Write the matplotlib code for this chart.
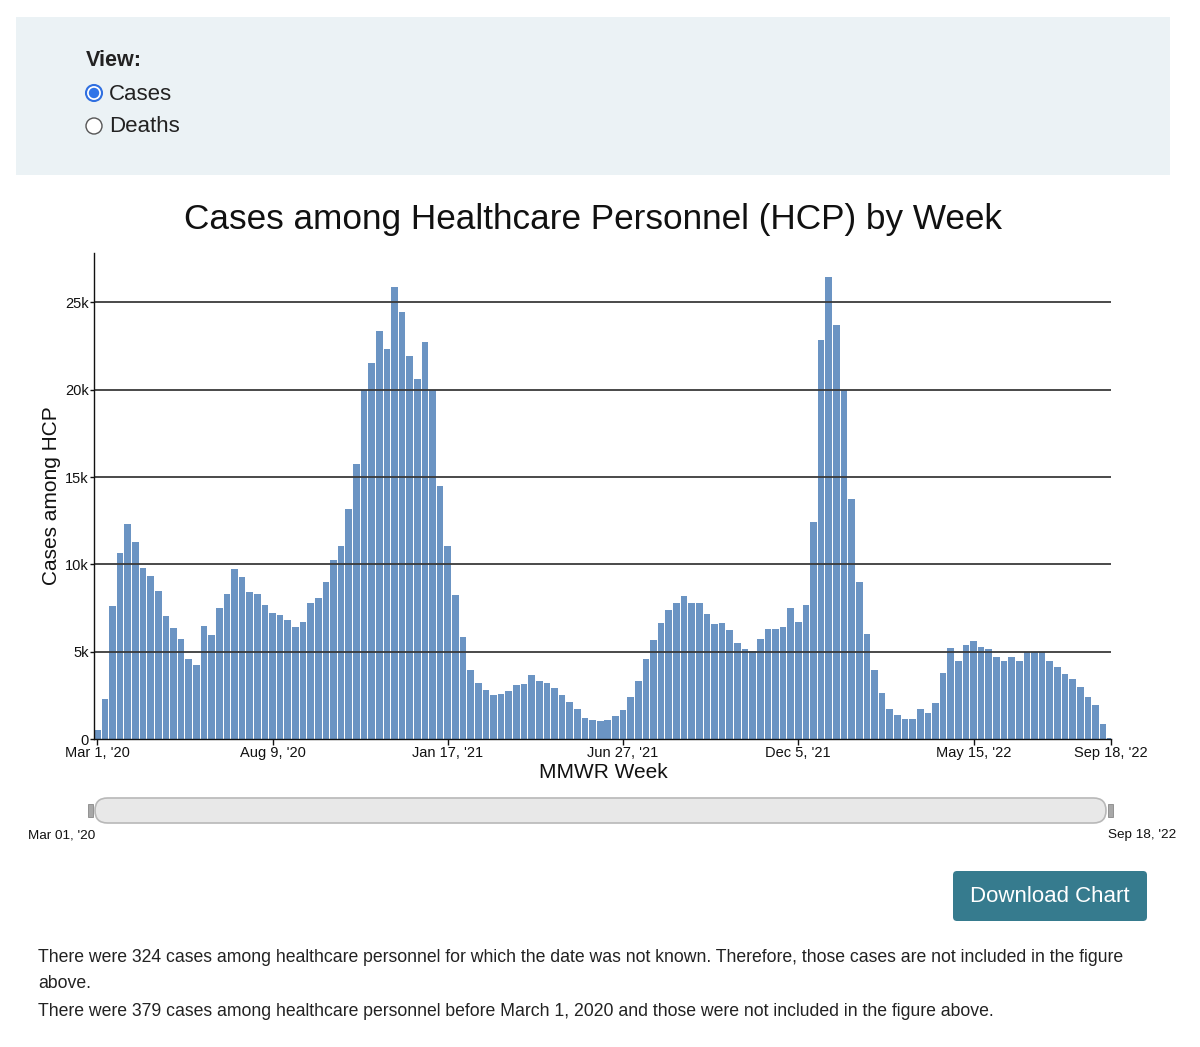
import numpy as np
import pandas as pd
import matplotlib
matplotlib.use('Agg')
import matplotlib.pyplot as plt
from matplotlib.patches import Rectangle, Circle, FancyBboxPatch
from matplotlib.ticker import FuncFormatter

plt.rcParams['font.family'] = ['Liberation Sans', 'DejaVu Sans']

# weekly cases among HCP (thousands), MMWR weeks from Mar 1, 2020
cases_k = [
    0.53, 2.32, 7.6, 10.67, 12.29, 11.26, 9.79, 9.33, 8.51, 7.07,
    6.34, 5.73, 4.59, 4.25, 6.48, 5.98, 7.5, 8.3, 9.73, 9.3,
    8.4, 8.3, 7.71, 7.24, 7.09, 6.8, 6.44, 6.69, 7.81, 8.1,
    9.0, 10.27, 11.07, 13.16, 15.77, 20.0, 21.52, 23.33, 22.34, 25.89,
    24.44, 21.9, 20.59, 22.7, 20.0, 14.51, 11.05, 8.23, 5.87, 3.96,
    3.2, 2.8, 2.53, 2.61, 2.74, 3.09, 3.16, 3.66, 3.35, 3.2,
    2.93, 2.51, 2.13, 1.75, 1.2, 1.1, 1.05, 1.12, 1.33, 1.68,
    2.44, 3.33, 4.61, 5.7, 6.65, 7.39, 7.81, 8.19, 7.79, 7.79,
    7.14, 6.59, 6.67, 6.23, 5.52, 5.16, 5.05, 5.75, 6.29, 6.32,
    6.42, 7.49, 6.69, 7.66, 12.44, 22.86, 26.46, 23.7, 20.0, 13.73,
    8.97, 6.02, 3.96, 2.63, 1.75, 1.39, 1.14, 1.14, 1.75, 1.49,
    2.06, 3.77, 5.24, 4.5, 5.37, 5.64, 5.3, 5.14, 4.7, 4.5,
    4.72, 4.5, 4.99, 4.99, 4.99, 4.48, 4.11, 3.73, 3.47, 2.97,
    2.4, 1.98, 0.86, 0.1,
]
weeks = pd.date_range('2020-03-01', periods=len(cases_k), freq='7D')

tick_dates = ['2020-03-01', '2020-08-09', '2021-01-17', '2021-06-27',
              '2021-12-05', '2022-05-15', '2022-09-18']
tick_labels = ["Mar 1, '20", "Aug 9, '20", "Jan 17, '21", "Jun 27, '21",
               "Dec 5, '21", "May 15, '22", "Sep 18, '22"]
y_ticks = [0, 5000, 10000, 15000, 20000, 25000]

footnotes = [
    "There were 324 cases among healthcare personnel for which the date was not known. Therefore, those cases are not included in the figure",
    "above.",
    "There were 379 cases among healthcare personnel before March 1, 2020 and those were not included in the figure above.",
]

W, H = 1200, 1047
fig = plt.figure(figsize=(W / 100, H / 100), dpi=100)

# page layer in pixel coordinates (y measured from top)
bg = fig.add_axes([0, 0, 1, 1], zorder=0)
bg.set_xlim(0, W)
bg.set_ylim(H, 0)
bg.axis('off')

bg.add_patch(Rectangle((16, 17), 1154, 158, facecolor='#ebf2f5', edgecolor='none'))
bg.text(86, 61, 'View:', fontsize=15.5, fontweight='bold', color='#222', va='center')
bg.add_patch(Circle((94, 93), 8, facecolor='white', edgecolor='#2f6fe0', lw=1.5))
bg.add_patch(Circle((94, 93), 5.2, facecolor='#2f74e8', edgecolor='none'))
bg.text(109, 94, 'Cases', fontsize=16, color='#222', va='center')
bg.add_patch(Circle((94, 126), 8, facecolor='white', edgecolor='#555', lw=1))
bg.text(109, 127, 'Deaths', fontsize=16, color='#222', va='center')

bg.text(593, 219, 'Cases among Healthcare Personnel (HCP) by Week',
        fontsize=25.3, color='#111', ha='center', va='center')
bg.text(52, 496, 'Cases among HCP', fontsize=15, rotation=90,
        ha='center', va='center', color='#111')
bg.text(603, 772, 'MMWR Week', fontsize=15, ha='center', va='center', color='#111')

# range slider
bg.add_patch(FancyBboxPatch((95, 798), 1011, 25,
                            boxstyle='round,pad=0,rounding_size=12.5',
                            facecolor='#e8e8e8', edgecolor='#b8b8b8', lw=1.2))
bg.add_patch(Rectangle((88, 804), 5, 13, facecolor='#a8a8a8', edgecolor='#888', lw=0.6))
bg.add_patch(Rectangle((1108, 804), 5, 13, facecolor='#a8a8a8', edgecolor='#888', lw=0.6))
bg.text(62, 835, "Mar 01, '20", fontsize=9.7, ha='center', va='center', color='#111')
bg.text(1142, 835, "Sep 18, '22", fontsize=9.7, ha='center', va='center', color='#111')

# download button
bg.add_patch(FancyBboxPatch((953, 871), 194, 50,
                            boxstyle='round,pad=0,rounding_size=4',
                            facecolor='#367b8e', edgecolor='none'))
bg.text(1050, 897, 'Download Chart', fontsize=16, color='white', ha='center', va='center')

for i, line in enumerate(footnotes):
    y = [958, 984, 1011][i]
    bg.text(38, y, line, fontsize=12.68, color='#222', va='center')

# chart
x0, x1, y0, y1 = 94.4, 1110.7, 739.3, 253.3
ax = fig.add_axes([x0 / W, 1 - y0 / H, (x1 - x0) / W, (y0 - y1) / H], zorder=1)
ax.patch.set_alpha(0)

x = np.arange(len(weeks))
ax.bar(x, np.array(cases_k) * 1000, width=0.87, color='#6b94c3', edgecolor='none', zorder=1)
ax.set_xlim(-0.38, len(weeks) - 1)
ax.set_ylim(0, 27800)

for v in y_ticks[1:]:
    ax.axhline(v, color='#3a3a3a', lw=1.3, zorder=2)

ax.set_yticks(y_ticks)
ax.yaxis.set_major_formatter(FuncFormatter(lambda v, p: '0' if v == 0 else f'{int(v / 1000)}k'))
tick_pos = [weeks.get_loc(pd.Timestamp(d)) for d in tick_dates]
ax.set_xticks(tick_pos)
ax.set_xticklabels(tick_labels)
ax.tick_params(axis='both', labelsize=10.5, colors='#111', width=1)
ax.tick_params(axis='x', length=4, pad=0.5)
ax.tick_params(axis='y', length=3, pad=1)

for s in ['top', 'right']:
    ax.spines[s].set_visible(False)
for s in ['left', 'bottom']:
    ax.spines[s].set_color('#111')
    ax.spines[s].set_linewidth(1)
    ax.spines[s].set_zorder(3)

fig.savefig('out.png', dpi=100)
